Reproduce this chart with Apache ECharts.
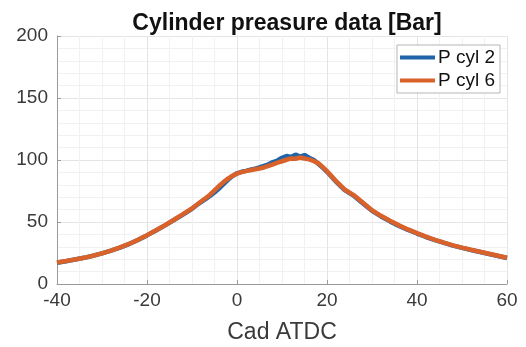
<!DOCTYPE html>
<html>
<head>
<meta charset="utf-8">
<script src="https://cdn.jsdelivr.net/npm/echarts@6/dist/echarts.min.js"></script>
<style>html,body{margin:0;padding:0;background:#fff}#c{width:526px;height:347px}</style>
</head>
<body>
<div id="c"></div>
<script>
const titleText = 'Cylinder preasure data [Bar]';
const xName = 'Cad ATDC';
const seriesNames = ['P cyl 2', 'P cyl 6'];
const cad = [-40,-38,-36,-34,-32,-30,-28,-26,-24,-22,-20,-18,-16,-14,-12,-10,
  -9,-8,-7,-6,-5,-4,-3,-2,-1,0,1,2,3,4,5,6,7,8,9,10,11,12,13,14,15,16,17,18,19,20,21,22,23,24,
  26,28,30,32,34,36,38,40,42,44,46,48,50,52,54,56,58,60];
const pCyl2 = [17.2,18.4,19.8,21.1,22.8,24.7,26.9,29.4,32.2,35.5,39.2,43.2,47.3,51.6,56.0,60.6,
  63.5,66,68.5,71,73.8,77,80.5,84,87,89.3,90.5,91.2,92.2,93,94,95.3,96.5,98.3,99.6,101.8,103.2,102.4,104.3,102.8,104,101.8,100.2,97.2,94,90.5,86.5,82.5,79,75.5,
  71,65,59,54.5,50.5,46.8,43.6,40.7,37.9,35.4,33.1,31,29.1,27.4,25.8,24.2,22.6,21];
const pCyl6 = [17.3,18.5,19.8,21.1,22.8,24.7,26.9,29.5,32.3,35.6,39.3,43.3,47.4,51.8,56.3,61,
  63.7,66.5,69.2,72,75.5,79,82.2,85,87.3,89,90.2,91,91.8,92.5,93.2,94,95.2,96.5,97.8,99,100.2,101.3,101,102,101.2,100.5,99.2,97.5,94.5,91,87,83,79.5,76,
  71.5,65.5,59.5,55,51,47.3,44,41,38.2,35.6,33.3,31.2,29.3,27.6,26,24.4,22.8,21.2];
const xMin = -40, xMax = 60, xStep = 20;
const yMin = 0, yMax = 200, yStep = 50;

const toPairs = (xs, ys) => xs.map((x, i) => [x, ys[i]]);
const chart = echarts.init(document.getElementById('c'), null, {renderer: 'canvas'});
const axisGray = '#9a9a9a';
const labelColor = '#3a3a3a';
const font = '"Liberation Sans", Arial, Helvetica, sans-serif';
chart.setOption({
  animation: false,
  backgroundColor: '#fff',
  title: {
    text: titleText, left: 282, top: 7, textAlign: 'center',
    textStyle: {fontFamily: font, fontSize: 23, fontWeight: 'bold', color: '#111'}
  },
  legend: {
    right: 26, top: 45, orient: 'vertical',
    backgroundColor: '#fff', borderColor: '#b5b5b5', borderWidth: 1, borderRadius: 0,
    padding: [3, 5, 3, 3], itemGap: 4, itemWidth: 35, itemHeight: 4,
    icon: 'rect',
    textStyle: {fontFamily: font, fontSize: 19, color: '#111', lineHeight: 19, padding: [0, 0, 0, -2]},
    data: seriesNames
  },
  grid: {left: 57, right: 19, top: 36, bottom: 63, containLabel: false, outerBoundsMode: 'none'},
  xAxis: {
    type: 'value', min: xMin, max: xMax, interval: xStep,
    name: xName, nameLocation: 'middle', nameGap: 37,
    nameTextStyle: {fontFamily: font, fontSize: 23, color: labelColor},
    axisLine: {show: true, onZero: false, lineStyle: {color: axisGray, width: 1}},
    axisTick: {show: true, inside: true, length: 4, lineStyle: {color: axisGray}},
    axisLabel: {fontFamily: font, fontSize: 19, color: labelColor, margin: 7},
    splitLine: {show: true, lineStyle: {color: '#e4e4e4', width: 1}},
    minorTick: {show: false, splitNumber: 4},
    minorSplitLine: {show: true, lineStyle: {color: '#f1f1f1', width: 1}}
  },
  yAxis: {
    type: 'value', min: yMin, max: yMax, interval: yStep,
    axisLine: {show: true, onZero: false, lineStyle: {color: axisGray, width: 1}},
    axisTick: {show: true, inside: true, length: 4, lineStyle: {color: axisGray}},
    axisLabel: {fontFamily: font, fontSize: 19, color: labelColor, margin: 9},
    splitLine: {show: true, lineStyle: {color: '#e4e4e4', width: 1}},
    minorTick: {show: false, splitNumber: 5},
    minorSplitLine: {show: true, lineStyle: {color: '#f1f1f1', width: 1}}
  },
  series: [
    {name: seriesNames[0], type: 'line', data: toPairs(cad, pCyl2), showSymbol: false,
     lineStyle: {width: 4.5, color: '#1f63a8'}, itemStyle: {color: '#1f63a8'}, z: 2},
    {name: seriesNames[1], type: 'line', data: toPairs(cad, pCyl6), showSymbol: false,
     lineStyle: {width: 4.5, color: '#d9622b'}, itemStyle: {color: '#d9622b'}, z: 3}
  ]
});
</script>
</body>
</html>
